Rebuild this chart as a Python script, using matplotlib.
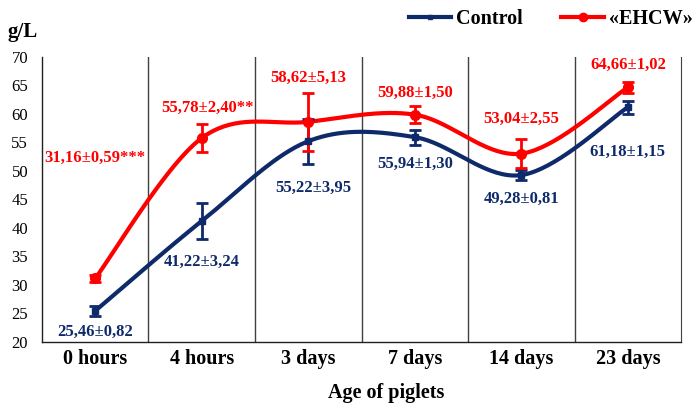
import numpy as np
import matplotlib
matplotlib.use('Agg')
import matplotlib.pyplot as plt
from matplotlib.lines import Line2D

plt.rcParams['font.family'] = ['Liberation Serif', 'DejaVu Serif']

# Total protein in blood serum of piglets, g/L
ages = ['0 hours', '4 hours', '3 days', '7 days', '14 days', '23 days']
control_mean = [25.46, 41.22, 55.22, 55.94, 49.28, 61.18]
control_err = [0.82, 3.24, 3.95, 1.30, 0.81, 1.15]
ehcw_mean = [31.16, 55.78, 58.62, 59.88, 53.04, 64.66]
ehcw_err = [0.59, 2.40, 5.13, 1.50, 2.55, 1.02]
ehcw_marks = ['***', '**', '', '', '', '']

# where the value labels sit (y in g/L, x offset in categories)
control_label_y = [21.8, 34.0, 47.0, 51.2, 45.1, 53.3]
control_label_dx = [0, 0, 0.05, 0, 0, 0]
ehcw_label_y = [52.3, 61.0, 66.3, 63.7, 59.1, 68.6]
ehcw_label_dx = [0, 0.05, 0, 0, 0, 0]

NAVY = '#0E2A6A'
RED = '#FF0000'


def smooth(xs, ys, n=40):
    # Bezier smoothing like spreadsheet "smoothed line" charts
    pts = np.column_stack([xs, ys]).astype(float)
    padded = np.vstack([pts[0], pts, pts[-1]])
    out = []
    t = np.linspace(0, 1, n)[:, None]
    for i in range(len(pts) - 1):
        p0, p3 = pts[i], pts[i + 1]
        p1 = p0 + (padded[i + 2] - padded[i]) / 6
        p2 = p3 - (padded[i + 3] - padded[i + 1]) / 6
        seg = ((1 - t) ** 3) * p0 + 3 * ((1 - t) ** 2) * t * p1 \
            + 3 * (1 - t) * t ** 2 * p2 + t ** 3 * p3
        out.append(seg)
    out = np.vstack(out)
    return out[:, 0], out[:, 1]


fmt = lambda v: f'{v:.2f}'.replace('.', ',')

fig = plt.figure(figsize=(6.95, 4.04), dpi=100)
ax = fig.add_axes([0.0604, 0.1535, 0.9196, 0.7055])

x = np.arange(len(ages))

for means, errs, color, marker, ms in [
        (control_mean, control_err, NAVY, 's', 5),
        (ehcw_mean, ehcw_err, RED, 'o', 7)]:
    sx, sy = smooth(x, means)
    ax.plot(sx, sy, color=color, lw=3, solid_capstyle='round', zorder=3)
    ax.errorbar(x, means, yerr=errs, fmt='none', ecolor=color,
                elinewidth=2, capsize=4, capthick=2, zorder=4)
    ax.plot(x, means, ls='none', marker=marker, ms=ms, color=color, zorder=5)

for i in range(len(ages)):
    ax.text(x[i] + control_label_dx[i], control_label_y[i],
            f'{fmt(control_mean[i])}±{fmt(control_err[i])}',
            color=NAVY, fontsize=12, fontweight='bold',
            ha='center', va='center', zorder=6)
    ax.text(x[i] + ehcw_label_dx[i], ehcw_label_y[i],
            f'{fmt(ehcw_mean[i])}±{fmt(ehcw_err[i])}{ehcw_marks[i]}',
            color=RED, fontsize=12, fontweight='bold',
            ha='center', va='center', zorder=6)

# category separators
for b in np.arange(0.5, len(ages) - 1, 1):
    ax.axvline(b, color='#404040', lw=1, zorder=1)

ax.set_xlim(-0.5, len(ages) - 0.5)
ax.set_ylim(20, 70)
ax.set_yticks(range(20, 71, 5))
ax.set_xticks(x)
ax.set_xticklabels(ages, fontsize=14.5, fontweight='bold')
ax.tick_params(axis='y', length=0, pad=10, labelsize=12)
ax.tick_params(axis='x', length=0, pad=5)
ax.spines['top'].set_visible(False)
ax.spines['right'].set_color('#404040')
for s in ['left', 'bottom']:
    ax.spines[s].set_color('#202020')
    ax.spines[s].set_linewidth(1)

fig.text(0.011, 0.92, 'g/L', fontsize=15, fontweight='bold', va='center')
fig.text(0.556, 0.028, 'Age of piglets', fontsize=14.5, fontweight='bold',
         ha='center', va='center')

handles = [Line2D([], [], color=NAVY, lw=3, marker='s', ms=3),
           Line2D([], [], color=RED, lw=3, marker='o', ms=6)]
fig.legend(handles, ['Control', '«EHCW»'], loc='center right',
           bbox_to_anchor=(1.008, 0.953), ncol=2, frameon=False,
           prop={'weight': 'bold', 'size': 14.5}, handlelength=2.1,
           handletextpad=0.25, columnspacing=1.9, borderaxespad=0.0)

fig.savefig('out.png', dpi=100)
